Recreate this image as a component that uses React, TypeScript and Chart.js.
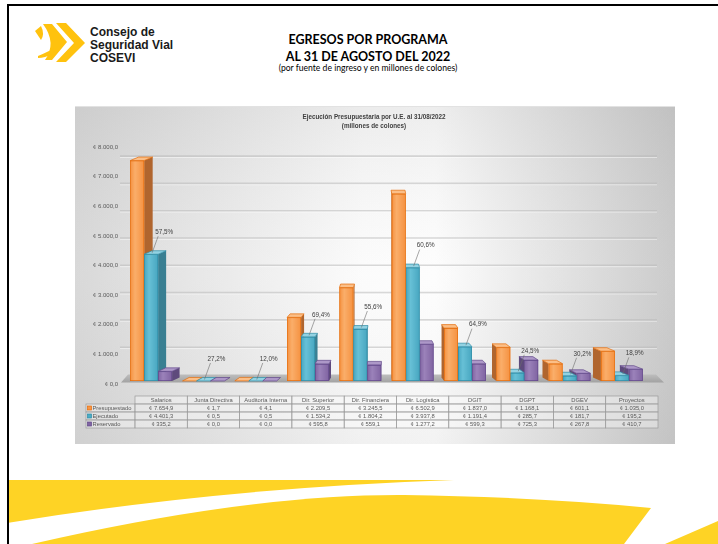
import { useEffect, useRef } from "react";
import { Chart, registerables } from "chart.js";

Chart.register(...registerables);

const CATEGORIES = [
  "Salarios",
  "Junta Directiva",
  "Auditoría Interna",
  "Dir. Superior",
  "Dir. Financiera",
  "Dir. Logística",
  "DGIT",
  "DGPT",
  "DGEV",
  "Proyectos",
];
const SERIES_NAMES = ["Presupuestado", "Ejecutado", "Reservado"];
const PRESUPUESTADO = [7654.9, 1.7, 4.1, 2209.5, 3245.5, 6502.9, 1837.0, 1168.1, 601.1, 1035.0];
const EJECUTADO = [4401.3, 0.5, 0.5, 1534.2, 1804.2, 3937.8, 1191.4, 285.7, 181.7, 195.2];
const RESERVADO = [335.2, 0.0, 0.0, 595.8, 559.1, 1277.2, 599.3, 725.3, 267.8, 410.7];
const EXEC_PCT = ["57,5%", "27,2%", "12,0%", "69,4%", "55,6%", "60,6%", "64,9%", "24,5%", "30,2%", "18,9%"];
const Y_TICKS = [0, 1000, 2000, 3000, 4000, 5000, 6000, 7000, 8000];
const Y_MAX = 8000;

const CHART_TITLE = ["Ejecución Presupuestaria por U.E. al 31/08/2022", "(millones de colones)"];

const COLORS = [
  { f1: "#FAAE6A", f2: "#F59140", side: "#B0652E", top: "#FBBF88", edge: "#E46C0A", key: "#F79646" },
  { f1: "#67C0D6", f2: "#47A6C0", side: "#397F92", top: "#93D2E2", edge: "#2E8CA6", key: "#4BACC6" },
  { f1: "#9B82BA", f2: "#7F63A1", side: "#5E4A7C", top: "#AD98C8", edge: "#62488A", key: "#8064A2" },
];

const SANS = "'Liberation Sans', Arial, sans-serif";

function fmt(v: number): string {
  const s = v.toFixed(1);
  const [i, d] = s.split(".");
  const ii = i.replace(/\B(?=(\d{3})+(?!\d))/g, ".");
  return "¢ " + ii + "," + d;
}

// perspective settings (style only)
const VANISH_X = 305;
const DEPTH_K = 0.035;
const TOP_DY = -3.5;
const TABLE_SHIFT = 10;

const threeDPlugin = {
  id: "threeD",
  beforeDraw(chart: any) {
    const { ctx, width, height } = chart;
    ctx.save();
    const g = ctx.createLinearGradient(0, 0, width, 0);
    g.addColorStop(0, "#d2d2d2");
    g.addColorStop(0.48, "#fbfbfb");
    g.addColorStop(0.6, "#fdfdfd");
    g.addColorStop(1, "#c2c2c2");
    ctx.fillStyle = g;
    ctx.fillRect(0, 0, width, height);
    const gv = ctx.createLinearGradient(0, 0, 0, height);
    gv.addColorStop(0, "rgba(190,190,190,0.25)");
    gv.addColorStop(0.5, "rgba(255,255,255,0.15)");
    gv.addColorStop(1, "rgba(200,200,200,0.2)");
    ctx.fillStyle = gv;
    ctx.fillRect(0, 0, width, height);
    ctx.fillStyle = "#e2e2e2";
    ctx.fillRect(0, 0, width, 1);
    // title
    ctx.fillStyle = "#404040";
    ctx.font = "bold 6.3px " + SANS;
    ctx.textAlign = "center";
    ctx.textBaseline = "middle";
    ctx.fillText(CHART_TITLE[0], 299, 11.5);
    ctx.fillText(CHART_TITLE[1], 299, 20.5);
    ctx.restore();
  },
  beforeDatasetsDraw(chart: any) {
    const { ctx, chartArea } = chart;
    const y = chart.scales.y;
    const base0 = y.getPixelForValue(0);
    ctx.save();
    // back-wall gridlines
    const gl = chartArea.left - 5;
    const gr = chartArea.right + 9;
    for (const v of Y_TICKS) {
      if (v === 0) continue;
      const yF = y.getPixelForValue(v);
      const yG = base0 - 6.5 + (yF - base0) * 0.948;
      ctx.strokeStyle = "rgba(185,185,185,0.55)";
      ctx.lineWidth = 1.6;
      ctx.beginPath();
      ctx.moveTo(gl, yG);
      ctx.lineTo(gr, yG);
      ctx.stroke();
      ctx.strokeStyle = "rgba(255,255,255,0.6)";
      ctx.lineWidth = 0.8;
      ctx.beginPath();
      ctx.moveTo(gl, yG + 1.4);
      ctx.lineTo(gr, yG + 1.4);
      ctx.stroke();
    }
    // floor
    const fy = base0 + 1.5;
    const by = base0 - 6.5;
    const fg = ctx.createLinearGradient(0, by, 0, fy);
    fg.addColorStop(0, "#bdbdbd");
    fg.addColorStop(1, "#a2a2a2");
    ctx.fillStyle = fg;
    ctx.beginPath();
    ctx.moveTo(chartArea.left - 4, fy);
    ctx.lineTo(chartArea.left + 3, by);
    ctx.lineTo(chartArea.right + 8, by);
    ctx.lineTo(chartArea.right + 16, fy);
    ctx.closePath();
    ctx.fill();
    // y tick labels
    ctx.fillStyle = "#595959";
    ctx.font = "6px " + SANS;
    ctx.textAlign = "right";
    ctx.textBaseline = "middle";
    for (const v of Y_TICKS) {
      const yF = y.getPixelForValue(v);
      const yL = base0 + (yF - base0) * 1.028 + 3;
      ctx.fillText(fmt(v), chartArea.left - 7, yL);
    }
    ctx.restore();
  },
  afterDatasetsDraw(chart: any) {
    const { ctx, chartArea } = chart;
    const xs = chart.scales.x;
    ctx.save();
    const items: any[] = [];
    chart.data.datasets.forEach((_ds: any, i: number) => {
      const meta = chart.getDatasetMeta(i);
      meta.data.forEach((el: any, j: number) => {
        const p = el.getProps(["x", "y", "base", "width"], true);
        items.push({ i, j, x: p.x, y: p.y, base: p.base, w: p.width });
      });
    });
    items.sort((a, b) => Math.abs(b.x - VANISH_X) - Math.abs(a.x - VANISH_X));
    for (const it of items) {
      const c = COLORS[it.i];
      const x0 = it.x - it.w / 2;
      const x1 = it.x + it.w / 2;
      const dx = (VANISH_X - it.x) * DEPTH_K;
      const dy = TOP_DY;
      const yT = Math.min(it.y, it.base);
      const yB = it.base;
      ctx.lineWidth = 0.7;
      ctx.strokeStyle = c.edge;
      // side face
      const sx = dx > 0 ? x1 : x0;
      ctx.fillStyle = c.side;
      ctx.beginPath();
      ctx.moveTo(sx, yT);
      ctx.lineTo(sx + dx, yT + dy);
      ctx.lineTo(sx + dx, yB + dy);
      ctx.lineTo(sx, yB);
      ctx.closePath();
      ctx.fill();
      // front face
      if (yB - yT > 0.3) {
        const fg = ctx.createLinearGradient(x0, 0, x1, 0);
        fg.addColorStop(0, c.f2);
        fg.addColorStop(0.35, c.f1);
        fg.addColorStop(1, c.f2);
        ctx.fillStyle = fg;
        ctx.fillRect(x0, yT, x1 - x0, yB - yT);
        ctx.strokeRect(x0 + 0.35, yT + 0.35, x1 - x0 - 0.7, yB - yT - 0.7);
      }
      // top face
      ctx.fillStyle = c.top;
      ctx.beginPath();
      ctx.moveTo(x0, yT);
      ctx.lineTo(x1, yT);
      ctx.lineTo(x1 + dx, yT + dy);
      ctx.lineTo(x0 + dx, yT + dy);
      ctx.closePath();
      ctx.fill();
      ctx.stroke();
    }

    // execution % labels (above Ejecutado bars)
    const metaE = chart.getDatasetMeta(1);
    ctx.font = "6.3px " + SANS;
    ctx.textAlign = "left";
    ctx.textBaseline = "middle";
    metaE.data.forEach((el: any, j: number) => {
      const p = el.getProps(["x", "y", "base"], true);
      const ty = Math.min(p.y, p.base);
      const lx = p.x + 4;
      const ly = ty - 22;
      ctx.strokeStyle = "#6b6b6b";
      ctx.lineWidth = 0.6;
      ctx.beginPath();
      ctx.moveTo(p.x + 1, ty - 1.5);
      ctx.lineTo(lx + 3, ly + 4);
      ctx.stroke();
      ctx.fillStyle = "#404040";
      ctx.fillText(EXEC_PCT[j], lx, ly);
    });

    // data table
    const catW = (chartArea.right - chartArea.left) / CATEGORIES.length;
    const tTop = chartArea.bottom + 15;
    const rowH = 8;
    const labL = 11;
    const firstL = xs.getPixelForValue(0) - catW / 2 + TABLE_SHIFT;
    ctx.font = "5.8px " + SANS;
    ctx.textBaseline = "middle";
    ctx.lineWidth = 0.7;
    ctx.strokeStyle = "#9a9a9a";
    // header row
    CATEGORIES.forEach((cat, j) => {
      const l = xs.getPixelForValue(j) - catW / 2 + TABLE_SHIFT;
      ctx.fillStyle = "rgba(255,255,255,0.35)";
      ctx.fillRect(l, tTop, catW, rowH);
      ctx.strokeRect(l, tTop, catW, rowH);
      ctx.fillStyle = "#595959";
      ctx.textAlign = "center";
      ctx.fillText(cat, l + catW / 2, tTop + rowH / 2 + 0.3);
    });
    const rows = [PRESUPUESTADO, EJECUTADO, RESERVADO];
    rows.forEach((vals, r) => {
      const top = tTop + rowH * (r + 1);
      ctx.fillStyle = "rgba(255,255,255,0.35)";
      ctx.fillRect(labL, top, firstL - labL, rowH);
      ctx.strokeRect(labL, top, firstL - labL, rowH);
      ctx.fillStyle = COLORS[r].key;
      ctx.fillRect(labL + 1.5, top + 2, 4, 4);
      ctx.strokeStyle = COLORS[r].edge;
      ctx.strokeRect(labL + 1.5, top + 2, 4, 4);
      ctx.strokeStyle = "#9a9a9a";
      ctx.fillStyle = "#595959";
      ctx.textAlign = "left";
      ctx.fillText(SERIES_NAMES[r], labL + 6.5, top + rowH / 2 + 0.3);
      vals.forEach((v, j) => {
        const l = xs.getPixelForValue(j) - catW / 2 + TABLE_SHIFT;
        ctx.fillStyle = "rgba(255,255,255,0.35)";
        ctx.fillRect(l, top, catW, rowH);
        ctx.strokeRect(l, top, catW, rowH);
        ctx.fillStyle = "#595959";
        ctx.textAlign = "center";
        ctx.fillText(fmt(v), l + catW / 2, top + rowH / 2 + 0.3);
      });
    });
    ctx.restore();
  },
};

export default function App() {
  const ref = useRef<HTMLCanvasElement>(null);
  useEffect(() => {
    const canvas = ref.current!;
    const chart = new Chart(canvas, {
      type: "bar",
      data: {
        labels: CATEGORIES,
        datasets: [PRESUPUESTADO, EJECUTADO, RESERVADO].map((d, i) => ({
          label: SERIES_NAMES[i],
          data: d,
          backgroundColor: "rgba(0,0,0,0)",
          borderWidth: 0,
          categoryPercentage: 0.8,
          barPercentage: 1.0,
        })),
      },
      options: {
        responsive: false,
        animation: false,
        devicePixelRatio: 1,
        layout: { padding: { left: 50, right: 27, top: 44.6, bottom: 63 } },
        plugins: { legend: { display: false }, tooltip: { enabled: false }, title: { display: false } },
        scales: {
          x: { display: false },
          y: { display: false, min: 0, max: Y_MAX },
        },
        events: [],
      },
      plugins: [threeDPlugin],
    });
    return () => chart.destroy();
  }, []);

  const yellow = "#FED325";
  return (
    <div
      style={{
        position: "fixed",
        left: 0,
        top: 0,
        width: 718,
        height: 544,
        background: "#ffffff",
        overflow: "hidden",
      }}
    >
      <svg width={718} height={544} style={{ position: "absolute", left: 0, top: 0 }}>
        <path d="M7,480 L454,480 Q220,488 7,523 Z" fill={yellow} />
        <path d="M32,544 Q250,494 404,495 Q540,497 651,508 L624,544 Z" fill={yellow} />
        <path d="M665,544 L718,521 L718,544 Z" fill={yellow} />
        {/* page frame */}
        <rect x={7} y={4} width={711} height={2} fill="#000" />
        <rect x={7} y={4} width={2} height={540} fill="#000" />
        {/* logo */}
        <path d="M35,31 L41,26 Q45,34 41,40 Z" fill="#FFC20E" />
        <path d="M43,24 L52,24 L67,42 L52,60 L45,60 Q57,43 43,24 Z" fill="#FFC20E" />
        <path d="M38,56 Q50,51 58,46 L52,54 Q45,58 38,58 Z" fill="#FFC20E" />
        <path d="M56,23 L66,23 L85,43 L66,62 L56,62 L74,43 Z" fill="#FFC20E" />
      </svg>
      <div
        style={{
          position: "absolute",
          left: 90,
          top: 26,
          fontFamily: "'Liberation Sans Narrow', 'Liberation Sans', Arial, sans-serif",
          fontWeight: 700,
          fontSize: 12,
          lineHeight: "13px",
          color: "#1a1a1a",
          whiteSpace: "nowrap",
        }}
      >
        Consejo de
        <br />
        Seguridad Vial
        <br />
        COSEVI
      </div>
      <div
        style={{
          position: "absolute",
          left: 218,
          top: 31,
          width: 300,
          textAlign: "center",
          fontFamily: "Lato, 'Open Sans', sans-serif",
          color: "#000",
          whiteSpace: "nowrap",
        }}
      >
        <div style={{ fontWeight: 700, fontSize: 12.5, lineHeight: "17px" }}>EGRESOS POR PROGRAMA</div>
        <div style={{ fontWeight: 700, fontSize: 12.5, lineHeight: "17px" }}>AL 31 DE AGOSTO DEL 2022</div>
        <div style={{ fontSize: 8.6, lineHeight: "10px", marginTop: -2 }}>
          (por fuente de ingreso y en millones de colones)
        </div>
      </div>
      <canvas
        ref={ref}
        width={600}
        height={338}
        style={{ position: "absolute", left: 75, top: 106, width: 600, height: 338 }}
      />
    </div>
  );
}
